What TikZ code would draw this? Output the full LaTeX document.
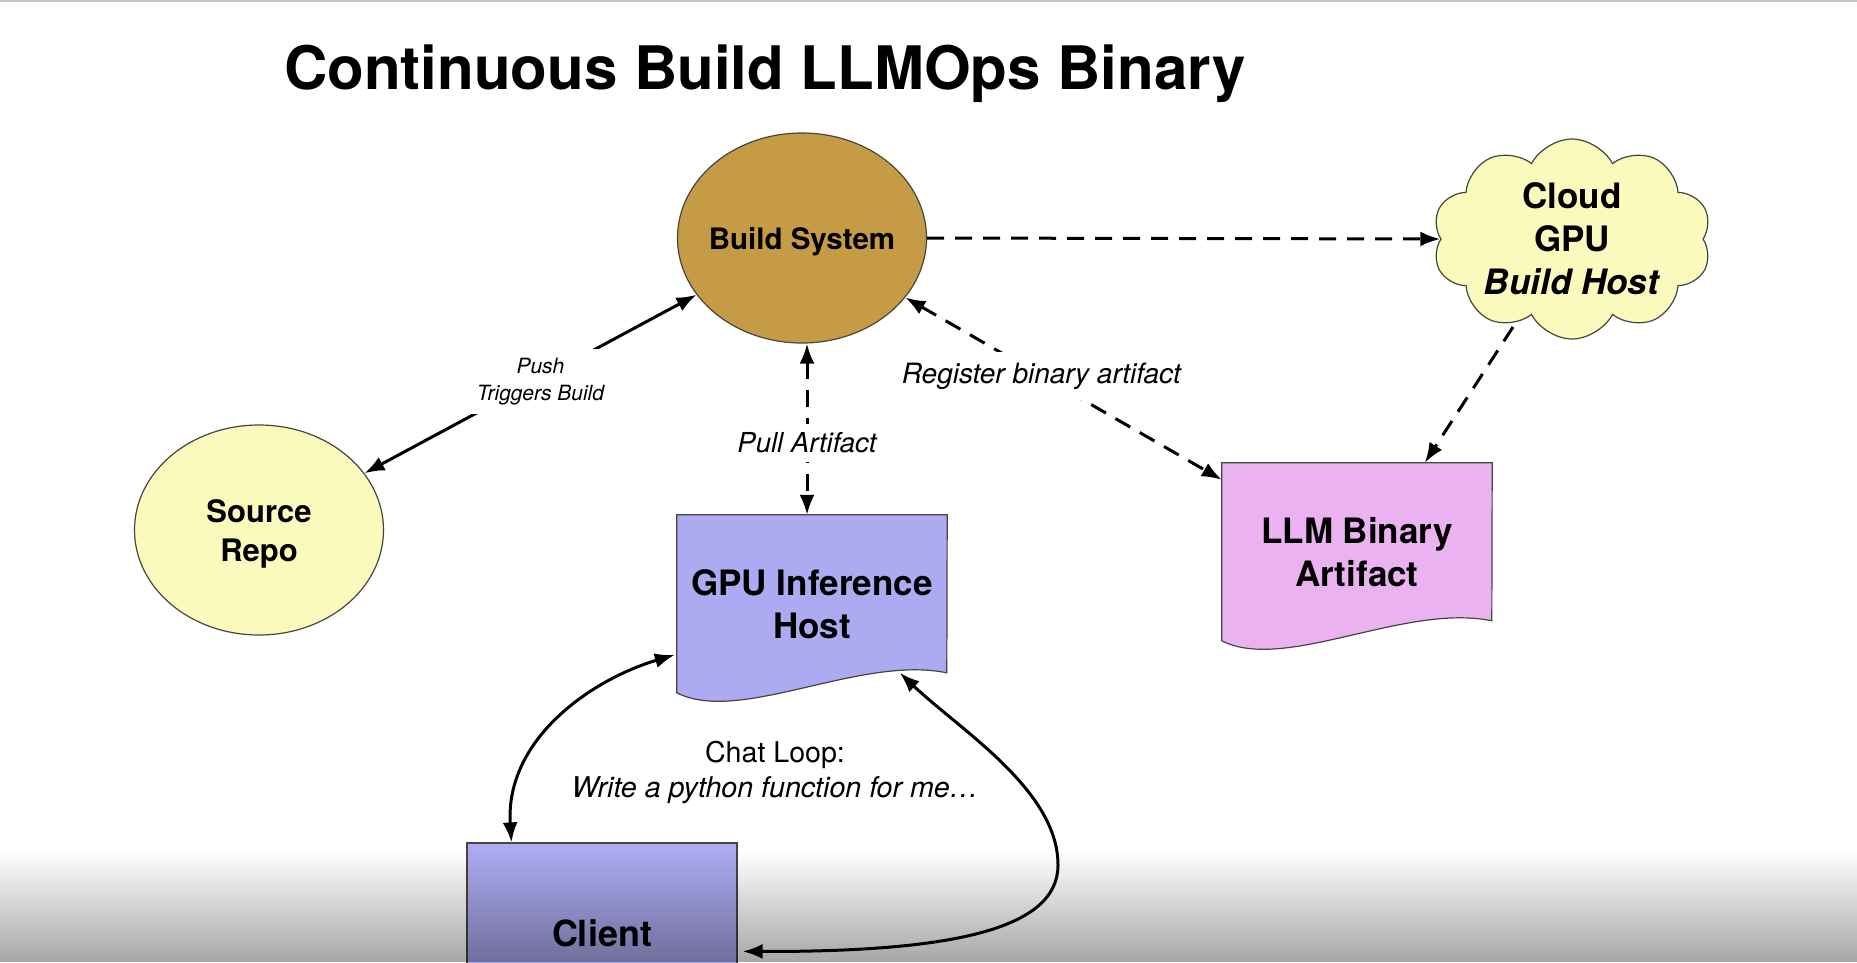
\documentclass[tikz,border=0pt]{standalone}
\usepackage{fontspec}
\setmainfont{TeX Gyre Heros}
\usetikzlibrary{arrows.meta,shapes.geometric,shapes.symbols}
\definecolor{goldc}{RGB}{197,155,70}
\definecolor{yellowc}{RGB}{250,250,188}
\definecolor{lavc}{RGB}{172,170,240}
\definecolor{pinkc}{RGB}{235,178,242}
\definecolor{edgec}{RGB}{70,70,60}
\newcommand{\docpath}[2]{%
  \path[shapeborder, fill=#2] (#1.north west) -- (#1.north east)
    -- ([shift={(270,158)}]#1.north west)
    .. controls ([shift={(183,140)}]#1.north west) and ([shift={(63,210)}]#1.north west)
    .. ([shift={(0,178)}]#1.north west) -- cycle;}
\tikzset{
  shapeborder/.style={draw=edgec, line width=1.2pt},
  ntext/.style={font=\bfseries, align=center, inner sep=0pt},
  lbl/.style={fill=white, align=center, inner sep=9pt},
  conn/.style={line width=3pt, >={Latex[length=20pt,width=15pt]}},
  dconn/.style={conn, dash pattern=on 17pt off 11pt},
  docnode/.style={minimum width=270pt, minimum height=178pt, inner sep=0pt, font=\bfseries\fontsize{35}{43}\selectfont, align=center},
  ellnode/.style={ellipse, shapeborder, minimum width=249pt, minimum height=210pt, inner sep=0pt}
}
\begin{document}
\begin{tikzpicture}[x=1pt,y=-1pt]
\clip (0,0) rectangle (1857,962);
\fill[white] (0,0) rectangle (1857,962);
\fill[black!22] (0,0) rectangle (1857,2);

% title
\node[anchor=base west, inner sep=0pt, font=\bfseries\fontsize{60}{70}\selectfont] (title) at (284,89) {Continuous Build LLMOps Binary};

% nodes
\node[ellnode, fill=goldc, label={[ntext, yshift=-4pt, font=\bfseries\fontsize{29.5}{35}\selectfont]center:Build System}] (bs) at (802,238) {};
\node[ellnode, fill=yellowc, label={[ntext, yshift=-4pt, font=\bfseries\fontsize{31}{39}\selectfont]center:Source\\Repo}] (src) at (259,530) {};
\node[cloud, cloud puffs=10, cloud puff arc=125, aspect=1.4, shapeborder, fill=yellowc, minimum width=279pt, minimum height=200pt, inner sep=0pt,
  label={[ntext, font=\bfseries\fontsize{35}{43}\selectfont]center:Cloud\\GPU\\\textit{Build Host}}] (cloud) at (1572,239) {};

\node[docnode] (gpu) at (812,604) {};
\docpath{gpu}{lavc}
\node[docnode] (gputext) at (gpu.center) {GPU Inference\\Host};

\node[docnode] (llm) at (1357,552) {};
\docpath{llm}{pinkc}
\node[docnode] (llmtext) at (llm.center) {LLM Binary\\Artifact};

\node[shapeborder, fill=lavc, minimum width=270pt, minimum height=180pt, inner sep=0pt, font=\bfseries\fontsize{36}{43}\selectfont] (client) at (602,933) {Client};

% connectors
\draw[conn, <->] (src) -- node[lbl, pos=.53, yshift=-3pt, font=\itshape\fontsize{21}{27}\selectfont] (pushlbl) {Push\\Triggers Build} (bs);
\draw[dconn, ->] (bs.east) -- (cloud.west);
\draw[dconn, ->] ([shift={(-59,88)}]cloud.center) -- ([shift={(203,0)}]llm.north west);
\draw[dconn, <->] (bs) -- node[lbl, pos=.43, inner sep=11pt, font=\itshape\fontsize{28}{33}\selectfont] (reglbl) {Register binary artifact} ([shift={(0,17)}]llm.north west);
\draw[dconn, <->] ([shift={(5,0)}]bs.south) -- node[lbl, pos=.58, inner sep=9pt, font=\itshape\fontsize{27.5}{33}\selectfont] (pulllbl) {Pull Artifact} ([shift={(-5,0)}]gpu.north);

\draw[conn, <->] ([shift={(-2,140)}]gpu.north west) .. controls (590,680) and (505,740) .. ([shift={(45,0)}]client.north west);
\draw[conn, <->] ([shift={(223,158)}]gpu.north west) .. controls (960,730) and (1058,790) .. (1058,865)
   .. controls (1058,930) and (950,952) .. ([shift={(5,109)}]client.north east);

\node[align=center, inner sep=0pt, font=\fontsize{28.6}{35}\selectfont] (chat) at (775,772) {Chat Loop:\\\textit{Write a python function for me…}};

% bottom fade
\foreach \i [evaluate=\i as \op using \i*0.0031] in {0,...,111} {
  \fill[black, opacity=\op] (0,850+\i) rectangle (1857,851+\i);
}
\end{tikzpicture}
\end{document}
